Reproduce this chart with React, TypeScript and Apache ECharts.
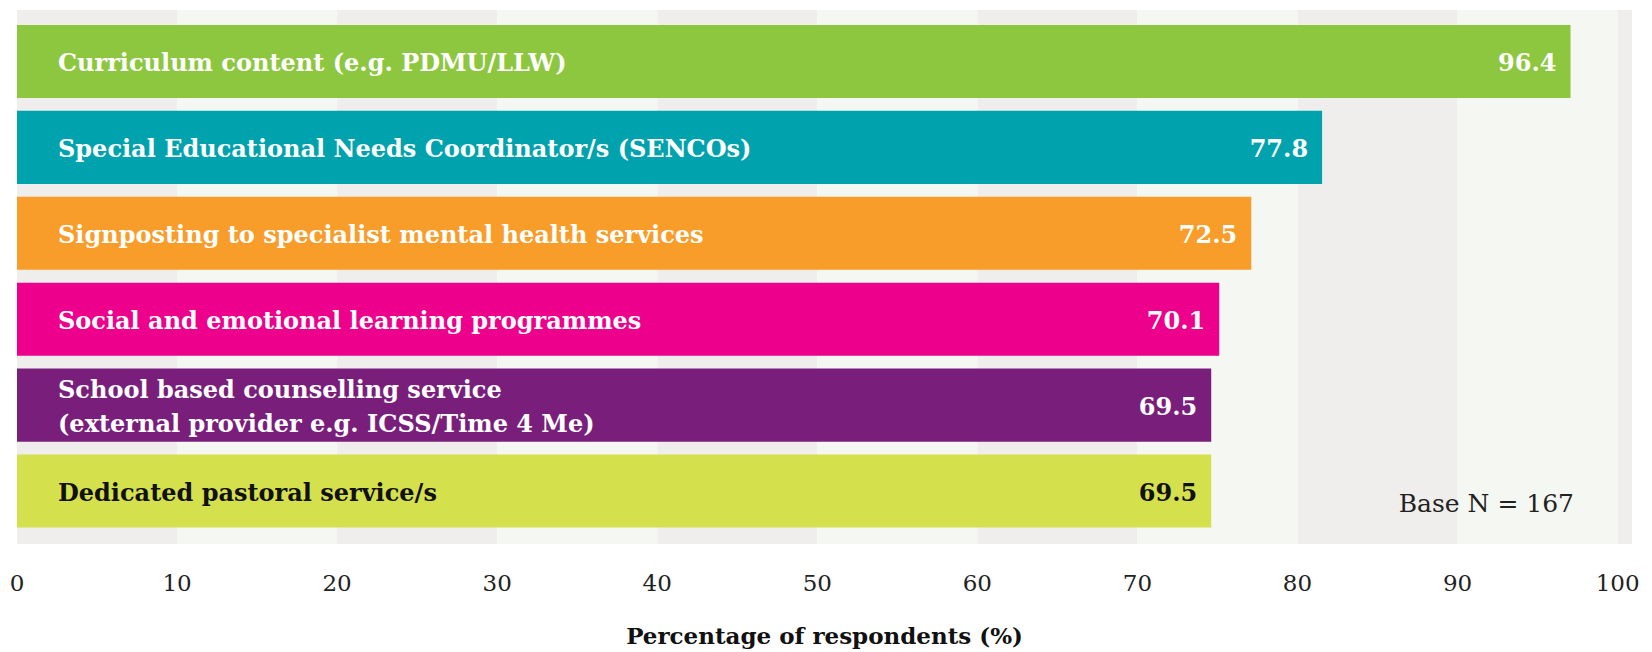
import React, { useEffect, useRef } from "react";
import * as echarts from "echarts";

const categories = [
  "Curriculum content (e.g. PDMU/LLW)",
  "Special Educational Needs Coordinator/s (SENCOs)",
  "Signposting to specialist mental health services",
  "Social and emotional learning programmes",
  "School based counselling service\n(external provider e.g. ICSS/Time 4 Me)",
  "Dedicated pastoral service/s",
];
const values = [96.4, 77.8, 72.5, 70.1, 69.5, 69.5];
const barColors = ["#8DC73F", "#00A3AD", "#F99D2A", "#EC008C", "#7A1E7C", "#D5E04D"];
const textColors = ["#FFFFFF", "#FFFFFF", "#FFFFFF", "#FFFFFF", "#FFFFFF", "#111111"];
const xTicks = [0, 10, 20, 30, 40, 50, 60, 70, 80, 90, 100];
const baseN = 167;
const axisTitle = "Percentage of respondents (%)";

const FONT = "'DejaVu Serif', 'Liberation Serif', serif";

export default function App() {
  const ref = useRef<HTMLDivElement>(null);
  useEffect(() => {
    if (!ref.current) return;
    const chart = echarts.init(ref.current, undefined, { renderer: "svg" });
    const barMin = -19.9;
    const option: any = {
      animation: false,
      backgroundColor: "#ffffff",
      textStyle: { fontFamily: FONT },
      grid: [
        { left: 17, right: 20, top: 10, bottom: 108 },
        { left: 17, right: 20, top: 18.5, bottom: 118 },
      ],
      xAxis: [
        {
          gridIndex: 0,
          type: "value",
          min: 0,
          max: 100.9,
          interval: 10,
          axisLine: { show: false },
          axisTick: { show: false },
          splitLine: { show: false },
          splitArea: { show: true, areaStyle: { color: ["#EFEEEC", "#F5F8F2"] } },
          axisLabel: {
            margin: 27,
            fontSize: 23,
            color: "#222",
            fontFamily: FONT,
            formatter: (v: number) => (xTicks.indexOf(v) >= 0 ? String(v) : ""),
          },
          name: axisTitle,
          nameLocation: "middle",
          nameGap: 80,
          nameTextStyle: { fontSize: 23, fontWeight: "bold", color: "#111", fontFamily: FONT },
        },
        {
          gridIndex: 1,
          type: "value",
          min: barMin,
          max: 101,
          show: false,
        },
      ],
      yAxis: [
        { gridIndex: 0, type: "value", show: false },
        { gridIndex: 1, type: "category", inverse: true, data: categories, show: false },
      ],
      graphic: [
        {
          type: "text",
          x: 1574,
          y: 503,
          z: 100,
          style: {
            text: `Base N = ${baseN}`,
            fontSize: 25,
            fill: "#222",
            fontFamily: FONT,
            align: "right",
            verticalAlign: "middle",
          },
        },
      ],
      series: [
        {
          type: "custom",
          xAxisIndex: 1,
          yAxisIndex: 1,
          encode: { x: 0, y: 1 },
          data: values.map((v, i) => [v, i]),
          renderItem: (params: any, api: any) => {
            const v = api.value(0);
            const idx = api.value(1);
            const end = api.coord([v, idx]);
            const start = api.coord([barMin, idx]);
            const h = api.size([0, 1])[1] * 0.85;
            return {
              type: "group",
              children: [
                {
                  type: "rect",
                  shape: { x: start[0], y: end[1] - h / 2, width: end[0] - start[0], height: h },
                  style: { fill: barColors[idx] },
                },
                {
                  type: "text",
                  x: start[0] + 41,
                  y: end[1] + 1,
                  style: {
                    text: categories[idx],
                    fill: textColors[idx],
                    fontSize: 24,
                    fontWeight: "bold",
                    fontFamily: FONT,
                    align: "left",
                    verticalAlign: "middle",
                    lineHeight: 34,
                  },
                },
                {
                  type: "text",
                  x: end[0] - 14,
                  y: end[1] + 1,
                  style: {
                    text: v.toFixed(1),
                    fill: textColors[idx],
                    fontSize: 24,
                    fontWeight: "bold",
                    fontFamily: FONT,
                    align: "right",
                    verticalAlign: "middle",
                  },
                },
              ],
            };
          },
        },
      ],
    };
    chart.setOption(option);
    return () => chart.dispose();
  }, []);
  return (
    <div
      ref={ref}
      style={{ position: "fixed", left: 0, top: 0, width: 1652, height: 652 }}
    />
  );
}
